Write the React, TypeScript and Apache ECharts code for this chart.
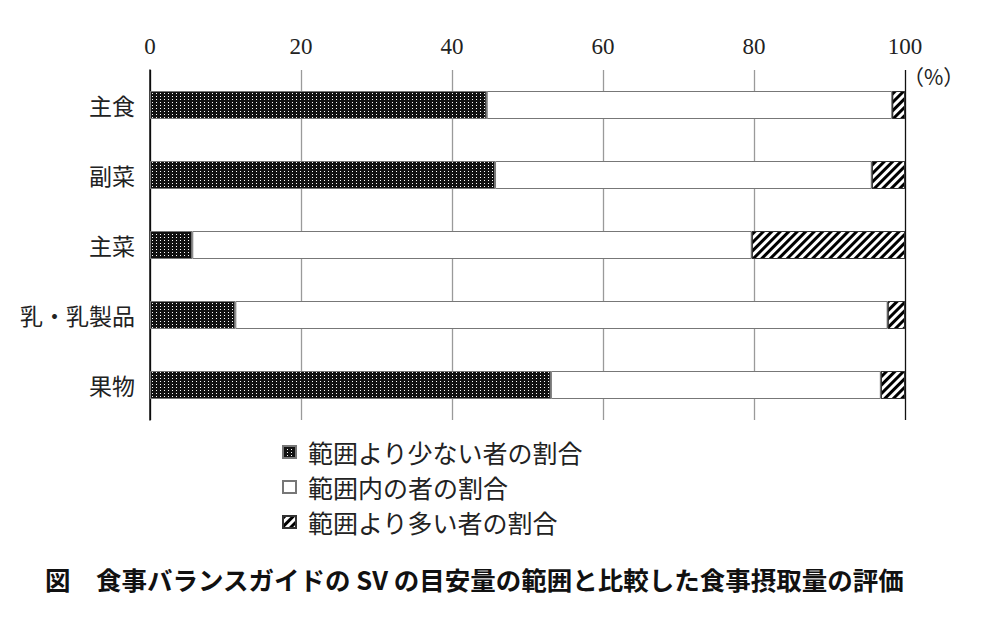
import React, { useEffect, useRef } from "react";
import * as echarts from "echarts";

const categories = ["主食", "副菜", "主菜", "乳・乳製品", "果物"];
const belowRange = [44.6, 45.7, 5.6, 11.3, 53.1];
const withinRange = [53.7, 49.9, 74.1, 86.4, 43.7];
const aboveRange = [1.7, 4.4, 20.3, 2.3, 3.2];
const xTicks = { min: 0, max: 100, interval: 20 };
const seriesNames = ["範囲より少ない者の割合", "範囲内の者の割合", "範囲より多い者の割合"];
const titleText = "図　食事バランスガイドの SV の目安量の範囲と比較した食事摂取量の評価";
const unitText = "（%）";

const CJK = "'Noto Sans CJK JP', 'Noto Sans', sans-serif";
const SERIF = "'Liberation Serif', 'DejaVu Serif', serif";

export default function App() {
  const ref = useRef<HTMLDivElement>(null);
  useEffect(() => {
    if (!ref.current) return;
    const chart = echarts.init(ref.current, null, { renderer: "svg" });
    chart.setOption({
      animation: false,
      backgroundColor: "#fff",
      title: {
        text: titleText,
        left: 45,
        top: 566,
        padding: 0,
        textStyle: { fontFamily: CJK, fontSize: 25.5, fontWeight: "bold", color: "#111" },
      },
      legend: {
        orient: "vertical",
        left: 282,
        top: 439,
        padding: 0,
        itemWidth: 13,
        itemHeight: 12,
        itemGap: 9,
        icon: "rect",
        selectedMode: false,
        data: seriesNames,
        textStyle: { fontFamily: CJK, fontSize: 25, color: "#222", lineHeight: 26, padding: [0, 0, 0, 7] },
      },
      graphic: [
        {
          type: "text",
          left: 903,
          top: 65,
          style: { text: unitText, fontFamily: CJK, fontSize: 21, fill: "#222" },
        },
      ],
      grid: { left: 150, right: 95, top: 70, height: 350, containLabel: false },
      xAxis: {
        type: "value",
        position: "top",
        min: xTicks.min,
        max: xTicks.max,
        interval: xTicks.interval,
        axisLine: { show: false },
        axisTick: { show: false },
        axisLabel: { fontFamily: SERIF, fontSize: 23, color: "#222", margin: 12 },
        splitLine: {
          show: true,
          lineStyle: { color: ["#000", "#9a9a9a", "#9a9a9a", "#9a9a9a", "#9a9a9a", "#111"], width: 1.3 },
        },
      },
      yAxis: {
        type: "category",
        inverse: true,
        data: categories,
        axisLine: { show: true, lineStyle: { color: "#111", width: 1.5 } },
        axisTick: { show: false },
        axisLabel: { fontFamily: CJK, fontSize: 23, color: "#222", margin: 15 },
      },
      series: [
        {
          name: seriesNames[0],
          type: "bar",
          stack: "total",
          barWidth: 28,
          data: belowRange,
          itemStyle: {
            color: "#111",
            borderColor: "#777",
            borderWidth: 1,
            decal: {
              symbol: "rect",
              symbolSize: 1,
              dashArrayX: [1, 3],
              dashArrayY: [1, 2],
              color: "#fff",
            },
          },
        },
        {
          name: seriesNames[1],
          type: "bar",
          stack: "total",
          barWidth: 28,
          data: withinRange,
          itemStyle: { color: "#fff", borderColor: "#777", borderWidth: 1 },
        },
        {
          name: seriesNames[2],
          type: "bar",
          stack: "total",
          barWidth: 28,
          data: aboveRange,
          itemStyle: {
            color: "#fff",
            borderColor: "#333",
            borderWidth: 1,
            decal: {
              symbol: "rect",
              symbolSize: 1,
              dashArrayX: [1, 0],
              dashArrayY: [3, 3],
              rotation: -Math.PI / 4,
              color: "#000",
            },
          },
        },
      ],
    });
    return () => chart.dispose();
  }, []);
  return (
    <div
      ref={ref}
      style={{ position: "absolute", left: 0, top: 0, width: 1000, height: 641 }}
    />
  );
}
